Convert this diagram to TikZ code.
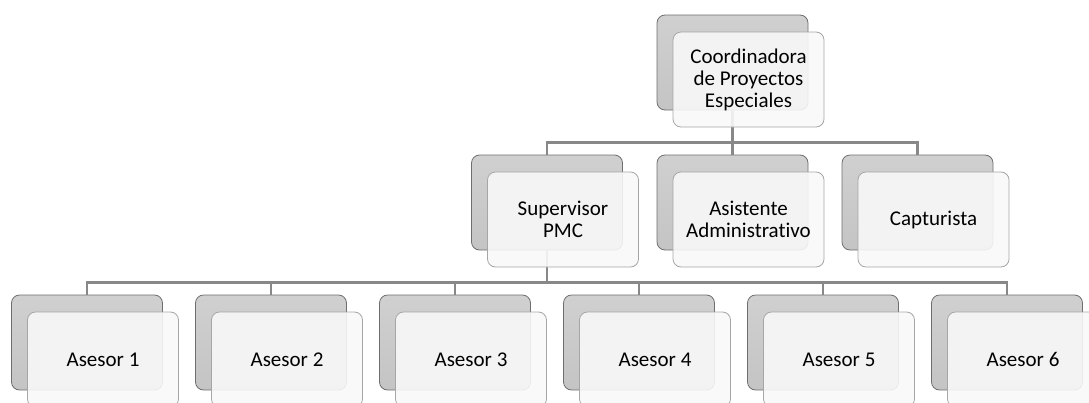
\documentclass[tikz,border=0pt]{standalone}
\usepackage{fontspec}
\setmainfont{Carlito}[Ligatures={NoCommon,NoContextual}]
\usepackage{xcolor}
\usetikzlibrary{positioning}
\definecolor{backtop}{HTML}{D0D0D0}
\definecolor{backbot}{HTML}{C4C4C4}
\definecolor{backedge}{HTML}{6E6E6E}
\definecolor{frontfill}{HTML}{F8F8F8}
\definecolor{frontedge}{HTML}{A6A6A6}
\definecolor{linegray}{HTML}{888888}
\newcommand{\orgfont}{\fontsize{21}{22}\selectfont}

\begin{document}
\begin{tikzpicture}[x=1pt, y=-1pt,
  back/.style={draw=backedge, line width=0.8pt, rounded corners=8pt, top color=backtop, bottom color=backbot, minimum width=151pt, minimum height=95pt, inner sep=0pt},
  front/.style={draw=frontedge, line width=0.8pt, rounded corners=8pt, fill=frontfill, fill opacity=0.9, text opacity=1, minimum width=151pt, minimum height=95pt, inner sep=2pt, align=center, font=\orgfont},
  link/.style={draw=linegray, line width=2.6pt}]
  \useasboundingbox (0,0) rectangle (1089,402);
  % back cards
  \node[back] (coordB) at (732.5,62.5) {};
  \node[back] (supB) at (547,202.5) {};
  \node[back] (asiB) at (732.5,202.5) {};
  \node[back] (capB) at (917.5,202.5) {};
  \foreach \i in {1,...,6}
    \node[back] (aseB\i) at (87+184*\i-184,342.5) {};
  % connectors
  \draw[link] (coordB.south) -- ++(0,32) -| (supB.north);
  \draw[link] (coordB.south) -- ++(0,32) -| (asiB.north);
  \draw[link] (coordB.south) -- ++(0,32) -| (capB.north);
  \foreach \i in {1,...,6}
    \draw[link] (supB.south) -- ++(0,32) -| (aseB\i.north);
  % front cards
  \node[front] (coord) at ([shift={(16,17)}]coordB) {Coordinadora\\de Proyectos\\Especiales};
  \node[front] (sup) at ([shift={(16,17)}]supB) {Supervisor\\PMC};
  \node[front] (asi) at ([shift={(16,17)}]asiB) {Asistente\\Administrativo};
  \node[front] (cap) at ([shift={(16,17)}]capB) {Capturista};
  \foreach \i in {1,...,6}
    \node[front] (ase\i) at ([shift={(16,17)}]aseB\i) {Asesor \i};
\end{tikzpicture}
\end{document}
